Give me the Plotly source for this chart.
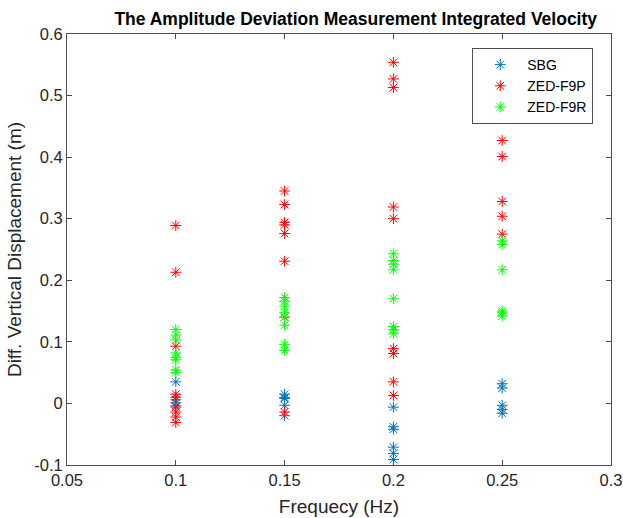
import plotly.graph_objects as go

freq_labels = ["0.05", "0.1", "0.15", "0.2", "0.25", "0.3"]
freq_ticks = [0.05, 0.1, 0.15, 0.2, 0.25, 0.3]
y_ticks = [-0.1, 0, 0.1, 0.2, 0.3, 0.4, 0.5, 0.6]
y_labels = ["-0.1", "0", "0.1", "0.2", "0.3", "0.4", "0.5", "0.6"]

sbg_x = [0.1, 0.1, 0.1, 0.1,
         0.15, 0.15, 0.15, 0.15, 0.15,
         0.2, 0.2, 0.2, 0.2, 0.2, 0.2,
         0.25, 0.25, 0.25, 0.25, 0.25]
sbg_y = [0.035, 0.006, 0.001, -0.004,
         0.015, 0.010, 0.008, -0.003, -0.020,
         -0.006, -0.038, -0.042, -0.071, -0.081, -0.091,
         0.032, 0.025, -0.003, -0.010, -0.016]

f9p_x = [0.1, 0.1, 0.1, 0.1, 0.1, 0.1, 0.1, 0.1, 0.1,
         0.15, 0.15, 0.15, 0.15, 0.15, 0.15, 0.15, 0.15,
         0.2, 0.2, 0.2, 0.2, 0.2, 0.2, 0.2, 0.2, 0.2,
         0.25, 0.25, 0.25, 0.25, 0.25]
f9p_y = [0.289, 0.213, 0.093, 0.015, 0.010, -0.006, -0.014, -0.022, -0.031,
         0.345, 0.323, 0.294, 0.290, 0.276, 0.231, 0.140, -0.014,
         0.554, 0.527, 0.513, 0.319, 0.300, 0.089, 0.081, 0.035, 0.013,
         0.328, 0.427, 0.401, 0.304, 0.275]

f9r_x = [0.1, 0.1, 0.1, 0.1, 0.1, 0.1, 0.1, 0.1,
         0.15, 0.15, 0.15, 0.15, 0.15, 0.15, 0.15, 0.15,
         0.2, 0.2, 0.2, 0.2, 0.2, 0.2, 0.2, 0.2,
         0.25, 0.25, 0.25, 0.25, 0.25, 0.25]
f9r_y = [0.120, 0.111, 0.103, 0.082, 0.075, 0.071, 0.054, 0.050,
         0.172, 0.166, 0.158, 0.148, 0.140, 0.127, 0.096, 0.086,
         0.243, 0.232, 0.226, 0.217, 0.170, 0.125, 0.120, 0.113,
         0.264, 0.258, 0.217, 0.150, 0.147, 0.142]

series = [
    ("SBG", sbg_x, sbg_y, "#0072BD"),
    ("ZED-F9P", f9p_x, f9p_y, "#FF0000"),
    ("ZED-F9R", f9r_x, f9r_y, "#00FF00"),
]

fig = go.Figure()
for name, xs, ys, col in series:
    fig.add_trace(go.Scatter(
        x=xs, y=ys, mode="markers", name=name, hoverinfo="skip",
        marker=dict(symbol="asterisk-open", size=9, color=col,
                    line=dict(color=col, width=1)),
    ))

font = "Liberation Sans, Arial, sans-serif"
axis_col = "#4d4d4d"
fig.update_layout(
    width=623, height=518,
    margin=dict(l=67, r=12, t=34, b=53),
    paper_bgcolor="white", plot_bgcolor="white",
    hovermode=False, dragmode=False,
    font=dict(family=font, size=16, color="#262626"),
    title=dict(text="<b>The Amplitude Deviation Measurement Integrated Velocity</b>",
               x=0.571, xanchor="center", y=0.963, yanchor="middle",
               font=dict(size=17.5, color="black")),
    showlegend=True,
    legend=dict(x=0.745, y=0.9675, xanchor="left", yanchor="top",
                bgcolor="white", bordercolor=axis_col, borderwidth=1,
                font=dict(size=14, color="black"), itemwidth=44,
                tracegroupgap=0),
    xaxis=dict(range=[0.05, 0.3], tickvals=freq_ticks, ticktext=freq_labels,
               ticks="inside", ticklen=5, tickcolor=axis_col,
               showline=True, linecolor=axis_col, linewidth=1, mirror="ticks",
               showgrid=False, zeroline=False, automargin=False,
               ticklabeloverflow="allow",
               tickfont=dict(size=16.5, color="#262626"),
               title=dict(text="Frequecy (Hz)", standoff=11,
                          font=dict(size=19, color="#262626"))),
    yaxis=dict(range=[-0.1, 0.6], tickvals=y_ticks, ticktext=y_labels,
               ticks="inside", ticklen=5, tickcolor=axis_col,
               showline=True, linecolor=axis_col, linewidth=1, mirror="ticks",
               showgrid=False, zeroline=False, automargin=False,
               ticklabeloverflow="allow",
               tickfont=dict(size=16.5, color="#262626"),
               title=dict(text="Diff. Vertical Displacement (m)", standoff=7,
                          font=dict(size=19, color="#262626"))),
)

fig.write_html("out.html", config={"staticPlot": True})
